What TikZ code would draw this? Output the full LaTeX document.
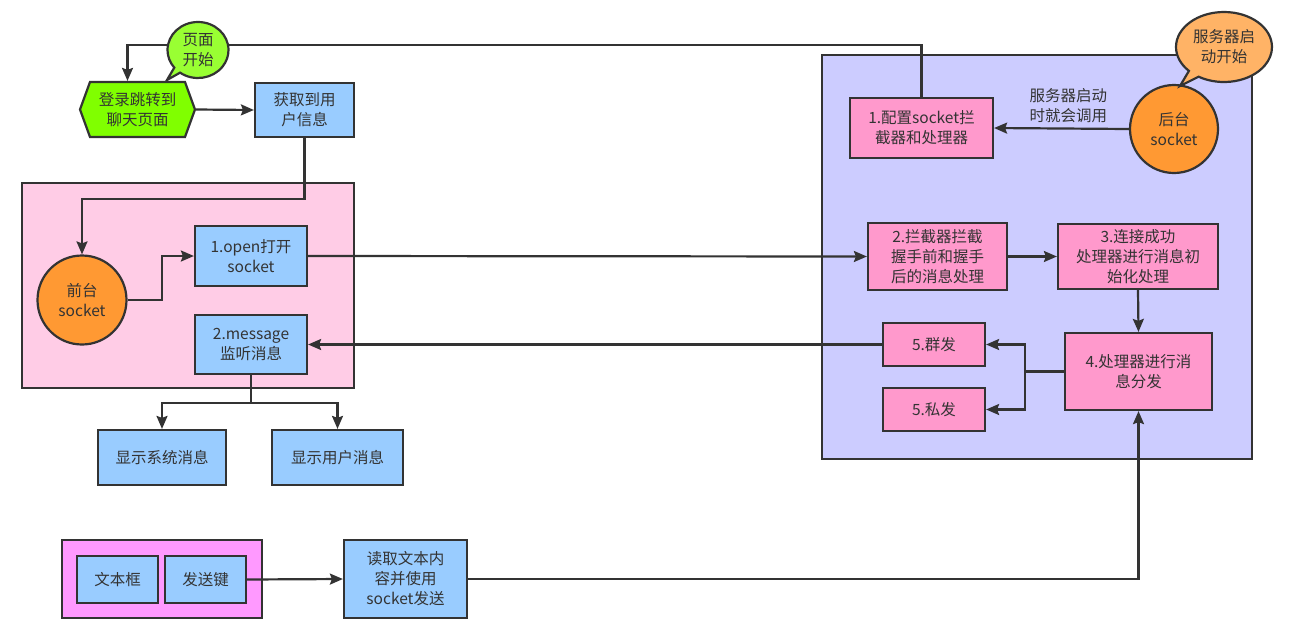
\documentclass[tikz,border=0pt]{standalone}
\usepackage{fontspec}
\setmainfont{Noto Sans CJK SC}
\usetikzlibrary{shapes.symbols,shapes.callouts,arrows.meta}

\definecolor{linec}{HTML}{333333}
\definecolor{txtc}{HTML}{333333}
\definecolor{bluebox}{HTML}{99CCFF}
\definecolor{pinkbox}{HTML}{FF99CC}
\definecolor{pinkarea}{HTML}{FFCCE6}
\definecolor{purplearea}{HTML}{CCCCFF}
\definecolor{magentaarea}{HTML}{FF99FF}
\definecolor{orangec}{HTML}{FF9933}
\definecolor{lightorange}{HTML}{FFB366}
\definecolor{greenhex}{HTML}{80FF00}
\definecolor{greenbubble}{HTML}{99FF33}

\begin{document}
\begin{tikzpicture}[x=1pt,y=-1pt,
  base/.style={draw=linec, line width=2.2pt, text=txtc, align=center,
    inner sep=0pt, font=\fontsize{15.5}{20}\selectfont},
  box/.style={base, fill=#1, rectangle},
  area/.style={draw=linec, line width=2pt, fill=#1, rectangle, inner sep=0pt},
  sz/.style 2 args={minimum width=#1, minimum height=#2},
  roundnode/.style={base, fill=orangec, circle, minimum size=#1},
  conn/.style={draw=linec, line width=2.2pt},
  arr/.style={conn, -{Stealth[length=13pt,width=11pt,inset=2pt]}},
  plain/.style={text=txtc, align=center, inner sep=0pt, font=\fontsize{15.5}{20}\selectfont},
]
\useasboundingbox (0,0) rectangle (1315,641);

% container areas
\node[area=pinkarea, sz={332}{205}] (frontarea) at (188,285.5) {};
\node[area=purplearea, sz={430}{404}] (backarea) at (1037,257) {};
\node[area=magentaarea, sz={200}{78}] (inputarea) at (162,579) {};

% page entry
\node[base, fill=greenhex, shape=signal, signal to=east and west,
      signal pointer angle=140, sz={115}{55}] (login) at (137.5,109.5) {登录跳转到\\聊天页面};
\node[box=bluebox, sz={99}{54}] (getinfo) at (304.5,110) {获取到用\\户信息};

% front end
\node[roundnode=89] (frontc) at (82,300) {前台\\socket};
\node[box=bluebox, sz={112}{60}] (open) at (251,256) {1.open打开\\socket};
\node[box=bluebox, sz={112}{59}] (message) at (251,344.5) {2.message\\监听消息};
\node[box=bluebox, sz={128}{55}] (showsys) at (162,457.5) {显示系统消息};
\node[box=bluebox, sz={131}{55}] (showuser) at (337.5,457.5) {显示用户消息};

% back end
\node[box=pinkbox, sz={143}{60}] (config) at (921.5,128) {1.配置socket拦\\截器和处理器};
\node[roundnode=88] (backc) at (1174,129) {后台\\socket};
\node[box=pinkbox, sz={139}{67}] (intercept) at (937.5,256.5) {2.拦截器拦截\\握手前和握手\\后的消息处理};
\node[box=pinkbox, sz={160}{65}] (connected) at (1138,256.5) {3.连接成功\\处理器进行消息初\\始化处理};
\node[box=pinkbox, sz={147}{77}] (dispatch) at (1138.5,371.5) {4.处理器进行消\\息分发};
\node[box=pinkbox, sz={102}{43}] (group) at (934,344.5) {5.群发};
\node[box=pinkbox, sz={102}{43}] (private) at (934,409.5) {5.私发};

% input
\node[box=bluebox, sz={81}{47}] (textbox) at (117.5,579.5) {文本框};
\node[box=bluebox, sz={81}{47}] (sendkey) at (205.5,579.5) {发送键};
\node[box=bluebox, sz={123}{78}] (readsend) at (405.5,579) {读取文本内\\容并使用\\socket发送};

% helper coordinates
\coordinate (toprow) at (0,45);
\coordinate (loginin) at ([xshift=-10pt]login.north);
\coordinate (split) at ([xshift=-39pt]dispatch.west);
\coordinate (fork) at ([yshift=-28pt]message.south);

% connectors
\draw[arr] (config.north) |- (toprow -| loginin) -- (loginin);
\draw[arr] (login.east) -- (getinfo.west);
\draw[arr] (getinfo.south) -- ++(0,61) -| (frontc.north);
\draw[arr] (frontc.east) -- ++(34,0) |- (open.west);
\draw[arr] (open.east) -- (intercept.west);
\draw[arr] (intercept.east) -- (connected.west);
\draw[arr] (connected.south) -- (dispatch.north);
\draw[conn] (dispatch.west) -- (split);
\draw[arr] (split) |- (group.east);
\draw[arr] (split) |- (private.east);
\draw[arr] (group.west) -- (message.east);
\draw[arr] (backc.west) -- node[plain, pos=0.45, above=5pt] {服务器启动\\时就会调用} (config.east);
\draw[conn] (message.south) -- (fork);
\draw[arr] (fork) -| (showsys.north);
\draw[arr] (fork) -| (showuser.north);
\draw[arr] (sendkey.east) -- (readsend.west);
\draw[arr] (readsend.east) -| (dispatch.south);

% callouts
\node[base, fill=greenbubble, ellipse callout, sz={61}{56},
      callout absolute pointer={(167,80)}] (pagestart) at (198,50) {页面\\开始};
\node[base, fill=lightorange, ellipse callout, sz={96}{70},
      callout absolute pointer={(1180,86)}] (serverstart) at (1224,47) {服务器启\\动开始};
\end{tikzpicture}
\end{document}
